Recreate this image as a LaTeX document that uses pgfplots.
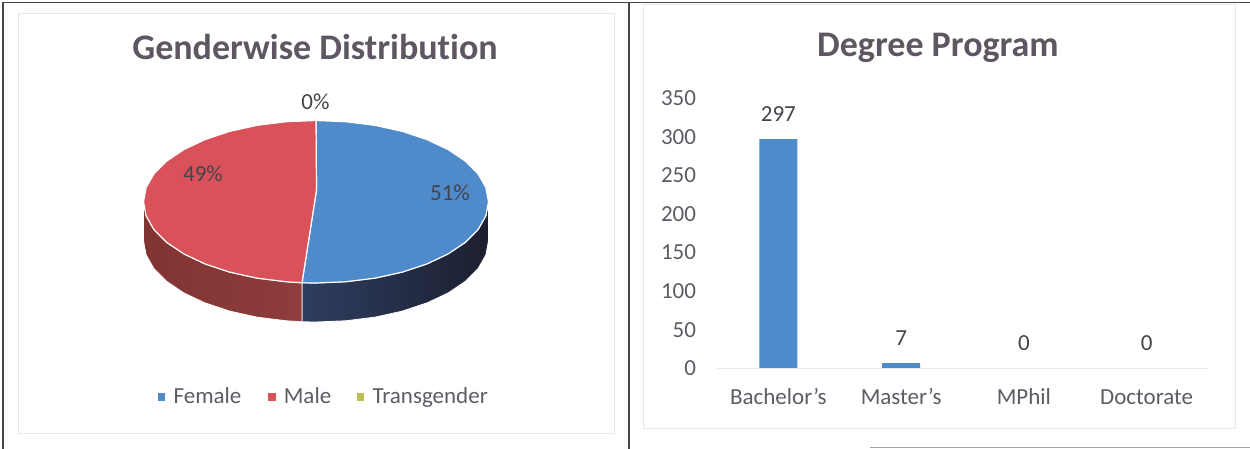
\documentclass[border=0pt]{standalone}
\usepackage{pgfplots}
\pgfplotsset{compat=1.18}
\usepackage{fontspec}
\setmainfont[Ligatures={NoCommon}]{Carlito}
\definecolor{ttl}{HTML}{5E5660}
\definecolor{lab}{HTML}{5F5A63}
\definecolor{dlab}{HTML}{45434A}
\definecolor{blu}{HTML}{4F8BCB}
\definecolor{rd}{HTML}{D9525A}
\definecolor{yg}{HTML}{BDBD50}
\definecolor{frm}{HTML}{E8E8E8}
\definecolor{edge}{HTML}{4A4648}
\newcommand{\fs}[1]{\fontsize{#1}{#1}\selectfont}
\begin{document}
\begin{tikzpicture}[x=1pt,y=1pt]
\begin{axis}[
  at={(0pt,0pt)},anchor=south west,
  width=1250pt,height=449pt,scale only axis,
  xmin=0,xmax=1250,ymin=0,ymax=449,y dir=reverse,
  hide axis,clip=true,
  legend style={at={(axis cs:324,396.5)},anchor=center,draw=none,fill=none,
    font=\fs{23}\color{lab},legend columns=-1,inner sep=0pt,
    /tikz/every even column/.append style={column sep=0pt}},
  legend cell align=left,
]
% panel frames
\addplot[frm,line width=1pt,forget plot] coordinates {(18,14)(614,14)(614,433)(18,433)(18,14)};
\addplot[frm,line width=1pt,forget plot] coordinates {(643,5)(1235,5)(1235,428)(643,428)(643,5)};
\addplot[edge,line width=1.2pt,forget plot] coordinates {(3,449)(3,2.5)(1250,2.5)};
\addplot[edge,line width=1.4pt,forget plot] coordinates {(629,2.5)(629,449)};
\addplot[black!35,line width=0.8pt,forget plot] coordinates {(870,447.5)(1250,447.5)};
% sides
\addplot[draw=white,line width=0.8pt,forget plot,
  left color={rgb,255:red,46;green,62;blue,96},right color={rgb,255:red,28;green,31;blue,48}] coordinates {
 (302,282.8)(316,283)(345.9,281.75)(375,278.15)(402.2,272.15)(426.9,263.95)(448.1,253.95)(465.4,242.35)(478.1,229.55)(485.9,215.85)(488.5,201.75)
 (488.5,240.75)(485.9,254.85)(478.1,268.55)(465.4,281.35)(448.1,292.95)(426.9,302.95)(402.2,311.15)(375,317.15)(345.9,320.75)(316,322)(302,321.8)(302,282.8)};
\addplot[draw=white,line width=0.8pt,forget plot,
  left color={rgb,255:red,128;green,52;blue,50},right color={rgb,255:red,142;green,62;blue,60}] coordinates {
 (302,282.8)(286.1,281.75)(257,278.15)(229.8,272.15)(205.1,263.95)(183.9,253.95)(166.6,242.35)(153.9,229.55)(146.1,215.85)(143.5,201.75)
 (143.5,240.75)(146.1,254.85)(153.9,268.55)(166.6,281.35)(183.9,292.95)(205.1,302.95)(229.8,311.15)(257,317.15)(286.1,320.75)(302,321.8)(302,282.8)};
% top faces
\addplot[fill=blu,draw=white,line width=1.2pt,forget plot] coordinates {
 (316.5,190)(316,120.5)(345.9,121.75)(375,125.35)(402.2,131.35)(426.9,139.55)(448.1,149.55)(465.4,161.15)(478.1,173.95)(485.9,187.65)(488.5,201.75)
 (485.9,215.85)(478.1,229.55)(465.4,242.35)(448.1,253.95)(426.9,263.95)(402.2,272.15)(375,278.15)(345.9,281.75)(316,283)(302,282.8)(316.5,190)};
\addplot[fill=rd,draw=white,line width=1.2pt,forget plot] coordinates {
 (316.5,190)(302,282.8)(286.1,281.75)(257,278.15)(229.8,272.15)(205.1,263.95)(183.9,253.95)(166.6,242.35)(153.9,229.55)(146.1,215.85)(143.5,201.75)
 (146.1,187.65)(153.9,173.95)(166.6,161.15)(183.9,149.55)(205.1,139.55)(229.8,131.35)(257,125.35)(286.1,121.75)(316,120.5)(316.5,190)};
% legend
\addlegendimage{only marks,mark=square*,mark size=3.2pt,color=blu,mark options={draw=none,fill=blu}}
\addlegendentry{\rule{7pt}{0pt}Female\rule{25pt}{0pt}}
\addlegendimage{only marks,mark=square*,mark size=3.2pt,color=rd,mark options={draw=none,fill=rd}}
\addlegendentry{\rule{7pt}{0pt}Male\rule{24pt}{0pt}}
\addlegendimage{only marks,mark=square*,mark size=3.2pt,color=yg,mark options={draw=none,fill=yg}}
\addlegendentry{\rule{7pt}{0pt}Transgender}
% text
\node[font=\fs{36}\bfseries,text=ttl,anchor=center] at (axis cs:315,47) {Genderwise Distribution};
\node[font=\fs{36}\bfseries,text=ttl,anchor=center] at (axis cs:938,47.5) {Degree Program};
\node[font=\fs{23},text=dlab,anchor=center] at (axis cs:315.5,102) {0\%};
\node[font=\fs{23},text=dlab,anchor=center] at (axis cs:203,174) {49\%};
\node[font=\fs{23},text=dlab,anchor=center] at (axis cs:450,193) {51\%};
\end{axis}
\begin{axis}[
  at={(717pt,80.5pt)},anchor=south west,
  width=491pt,height=270.4pt,scale only axis,
  xmin=-0.5,xmax=3.5,ymin=0,ymax=350,
  axis x line=bottom,axis y line=left,
  axis on top,
  y axis line style={draw=none},
  x axis line style={draw=frm,-,line width=1pt},
  axis line style={-},
  xtick={0,1,2,3},xticklabels={Bachelor\symbol{39}s,Master\symbol{39}s,MPhil,Doctorate},
  ytick={0,50,100,150,200,250,300,350},
  major tick length=0pt,
  tick style={draw=none},
  xticklabel style={font=\fs{23},text=lab,text height=16pt,text depth=0pt,yshift=-16pt},
  yticklabel style={font=\fs{23},text=lab,xshift=-17.5pt},
  /pgf/number format/assume math mode=true,
  ybar,bar width=38pt,clip=false,
  nodes near coords,
  nodes near coords style={font=\fs{23},text=dlab,anchor=center,yshift=25pt},
]
\addplot[fill=blu,draw=none,bar shift=0pt] coordinates {(0,297)(1,7)(2,0)(3,0)};
\end{axis}
\pgfresetboundingbox
\useasboundingbox (0pt,0pt) rectangle (1250pt,449pt);
\end{tikzpicture}
\end{document}
